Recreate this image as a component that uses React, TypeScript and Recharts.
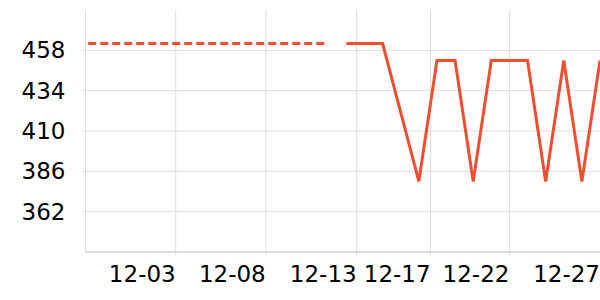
import { LineChart, Line, XAxis, YAxis, ReferenceLine } from "recharts";

// x is a day index on the timeline (one step per day)
const dashedDays = [-0.25, 13];
const dashedValues = [462, 462];

const solidDays = [14, 15, 16, 18, 19, 20, 21, 22, 23, 24, 25, 26, 27, 28];
const solidValues = [462, 462, 462, 380, 452, 452, 380, 452, 452, 452, 380, 452, 380, 452];

const xTickDays = [4.58, 9.55, 14.57, 18.65, 23, 28];
const xTickLabels = ["12-03", "12-08", "12-13", "12-17", "12-22", "12-27"];
const yTicks = [362, 386, 410, 434, 458];

const LINE_COLOR = "#f04e31";
const GRID_COLOR = "#dddddd";
const FONT = "'DejaVu Sans', sans-serif";

const dashedData = dashedDays.map((x, i) => ({ x, value: dashedValues[i] }));
const solidData = solidDays.map((x, i) => ({ x, value: solidValues[i] }));

const formatDay = (v: number) => {
  const idx = xTickDays.indexOf(v);
  return idx >= 0 ? xTickLabels[idx] : "";
};

export default function App() {
  return (
    <div style={{ position: "absolute", left: 0, top: 0, background: "#fff" }}>
      <LineChart
        width={600}
        height={300}
        margin={{ top: 10, right: 0, bottom: 0, left: 0 }}
      >
        <XAxis
          type="number"
          dataKey="x"
          domain={[-0.4, 28]}
          allowDataOverflow
          ticks={xTickDays}
          tickFormatter={formatDay}
          interval={0}
          height={48}
          stroke="#bbbbbb"
          tickSize={3}
          tickMargin={11}
          tickLine={{ stroke: GRID_COLOR }}
          tick={{ textAnchor: "end", fill: "#000", fontSize: 23, fontFamily: FONT }}
        />
        <YAxis
          type="number"
          domain={[338, 482]}
          allowDataOverflow
          ticks={yTicks}
          interval={0}
          width={85.5}
          stroke={GRID_COLOR}
          tickSize={3}
          tickMargin={17}
          tick={{ fill: "#000", fontSize: 23, fontFamily: FONT }}
        />
        {yTicks.map((t) => (
          <ReferenceLine key={"y" + t} y={t} stroke={GRID_COLOR} strokeWidth={1} />
        ))}
        {xTickDays
          .filter((d) => d < 28)
          .map((d) => (
            <ReferenceLine key={"x" + d} x={d} stroke={GRID_COLOR} strokeWidth={1} />
          ))}
        <Line
          data={dashedData}
          dataKey="value"
          type="linear"
          stroke={LINE_COLOR}
          strokeWidth={3}
          strokeDasharray="8 4"
          dot={false}
          activeDot={false}
          isAnimationActive={false}
        />
        <Line
          data={solidData}
          dataKey="value"
          type="linear"
          stroke={LINE_COLOR}
          strokeWidth={3}
          dot={false}
          activeDot={false}
          isAnimationActive={false}
        />
      </LineChart>
    </div>
  );
}
